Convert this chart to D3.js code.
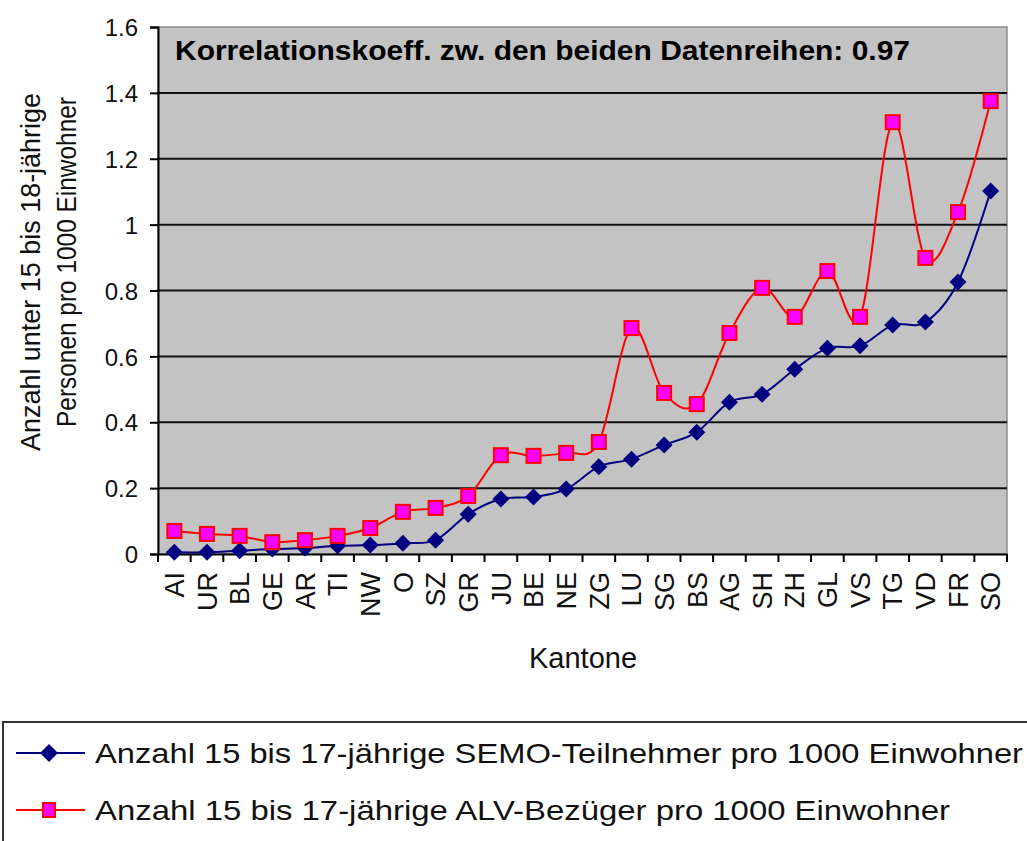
<!DOCTYPE html>
<html>
<head>
<meta charset="utf-8">
<script src="https://cdn.jsdelivr.net/npm/d3@7"></script>
<style>
  body { margin: 0; background: #fff; }
  svg { display: block; font-family: "Liberation Sans", Arial, sans-serif; }
</style>
</head>
<body>
<script>
const kantone = ["AI", "UR", "BL", "GE", "AR", "TI", "NW", "O", "SZ", "GR", "JU", "BE", "NE",
  "ZG", "LU", "SG", "BS", "AG", "SH", "ZH", "GL", "VS", "TG", "VD", "FR", "SO"];
const semo = [0.005, 0.005, 0.01, 0.015, 0.018, 0.025, 0.027, 0.033, 0.042, 0.121, 0.167, 0.173, 0.197,
  0.265, 0.288, 0.331, 0.37, 0.461, 0.485, 0.561, 0.625, 0.632, 0.695, 0.704, 0.826, 1.102];
const alv = [0.07, 0.061, 0.055, 0.036, 0.042, 0.055, 0.079, 0.128, 0.14, 0.176, 0.3, 0.298, 0.307,
  0.34, 0.686, 0.489, 0.455, 0.671, 0.808, 0.72, 0.859, 0.72, 1.311, 0.899, 1.038, 1.375];
const yTicks = [0, 0.2, 0.4, 0.6, 0.8, 1, 1.2, 1.4, 1.6];

const width = 1027;
const height = 841;
const plot = { left: 158, top: 27, right: 1007, bottom: 554 };

const svg = d3.select("body").append("svg")
  .attr("width", width)
  .attr("height", height);

const xScale = d3.scaleBand().domain(kantone).range([plot.left, plot.right]);
const yScale = d3.scaleLinear().domain([0, 1.6]).range([plot.bottom, plot.top]);
const xc = (k) => xScale(k) + xScale.bandwidth() / 2;

// plot background
svg.append("rect")
  .attr("x", plot.left).attr("y", plot.top)
  .attr("width", plot.right - plot.left).attr("height", plot.bottom - plot.top)
  .attr("fill", "#c3c3c3")
  .attr("stroke", "#8c8c8c").attr("stroke-width", 1.5);

// gridlines
svg.append("g").selectAll("line")
  .data(yTicks.slice(1, -1))
  .join("line")
  .attr("x1", plot.left).attr("x2", plot.right)
  .attr("y1", (d) => yScale(d)).attr("y2", (d) => yScale(d))
  .attr("stroke", "#111").attr("stroke-width", 2);

// annotation
svg.append("text")
  .text("Korrelationskoeff. zw. den beiden Datenreihen: 0.97")
  .attr("x", 175).attr("y", 60)
  .attr("font-size", 28).attr("font-weight", "bold")
  .attr("textLength", 735).attr("lengthAdjust", "spacingAndGlyphs")
  .attr("fill", "#000");

// y axis
const yAxis = d3.axisLeft(yScale).tickValues(yTicks).tickSize(8).tickPadding(12)
  .tickFormat((d) => String(d));
const gy = svg.append("g")
  .attr("transform", `translate(${plot.left},0)`)
  .call(yAxis);
gy.select(".domain").attr("stroke", "#000").attr("stroke-width", 2);
gy.selectAll(".tick line").attr("stroke", "#000").attr("stroke-width", 2);
gy.selectAll(".tick text")
  .attr("font-size", 24).attr("font-family", "Liberation Sans, Arial, sans-serif")
  .attr("fill", "#111").attr("dy", "0.36em");

// x axis
const xAxis = d3.axisBottom(xScale).tickSize(0).tickPadding(0);
const gx = svg.append("g")
  .attr("transform", `translate(0,${plot.bottom})`)
  .call(xAxis);
gx.select(".domain").attr("stroke", "#000").attr("stroke-width", 2);
gx.selectAll(".tick text")
  .attr("font-size", 27).attr("font-family", "Liberation Sans, Arial, sans-serif")
  .attr("fill", "#111")
  .attr("text-anchor", "end")
  .attr("transform", "translate(0,18) rotate(-90)")
  .attr("x", 0).attr("y", 0).attr("dy", "0.36em");
gx.append("g").selectAll("line")
  .data(d3.range(kantone.length + 1))
  .join("line")
  .attr("x1", (i) => plot.left + i * xScale.step())
  .attr("x2", (i) => plot.left + i * xScale.step())
  .attr("y1", 0).attr("y2", 8)
  .attr("stroke", "#000").attr("stroke-width", 2);

// axis titles
svg.append("text")
  .text("Kantone")
  .attr("x", 583).attr("y", 668)
  .attr("text-anchor", "middle")
  .attr("font-size", 29).attr("fill", "#111");

const yTitle = svg.append("text")
  .attr("transform", "translate(0,272) rotate(-90)")
  .attr("text-anchor", "middle")
  .attr("font-size", 27).attr("fill", "#111");
yTitle.append("tspan").attr("x", 0).attr("y", 40)
  .attr("textLength", 358).attr("lengthAdjust", "spacingAndGlyphs")
  .text("Anzahl unter 15 bis 18-jährige");
yTitle.append("tspan").attr("x", 10).attr("y", 76)
  .attr("textLength", 330).attr("lengthAdjust", "spacingAndGlyphs")
  .text("Personen pro 1000 Einwohner");

// lines
const line = d3.line()
  .x((d, i) => xc(kantone[i]))
  .y((d) => yScale(d))
  .curve(d3.curveCatmullRom.alpha(0));

svg.append("path").datum(semo)
  .attr("d", line)
  .attr("fill", "none").attr("stroke", "#000080").attr("stroke-width", 2);

svg.append("path").datum(alv)
  .attr("d", line)
  .attr("fill", "none").attr("stroke", "#ff0000").attr("stroke-width", 2);

const diamond = (cx, cy, r) => `M${cx},${cy - r}L${cx + r},${cy}L${cx},${cy + r}L${cx - r},${cy}Z`;

svg.append("g").selectAll("path")
  .data(semo)
  .join("path")
  .attr("d", (d, i) => diamond(xc(kantone[i]), yScale(d), 8.5))
  .attr("fill", "#000080");

svg.append("g").selectAll("rect")
  .data(alv)
  .join("rect")
  .attr("x", (d, i) => xc(kantone[i]) - 7)
  .attr("y", (d) => yScale(d) - 7)
  .attr("width", 14).attr("height", 14)
  .attr("fill", "#ff00ff").attr("stroke", "#ff0000").attr("stroke-width", 2);

// legend
const legend = svg.append("g");
legend.append("rect")
  .attr("x", 3).attr("y", 722)
  .attr("width", 1040).attr("height", 140)
  .attr("fill", "#fff").attr("stroke", "#333").attr("stroke-width", 2);

const legendItems = [
  { label: "Anzahl 15 bis 17-jährige SEMO-Teilnehmer pro 1000 Einwohner", color: "#000080", y: 753, len: 928 },
  { label: "Anzahl 15 bis 17-jährige ALV-Bezüger pro 1000 Einwohner", color: "#ff0000", y: 810, len: 855 },
];

legendItems.forEach((item, i) => {
  legend.append("line")
    .attr("x1", 16).attr("x2", 85)
    .attr("y1", item.y).attr("y2", item.y)
    .attr("stroke", item.color).attr("stroke-width", 2);
  if (i === 0) {
    legend.append("path").attr("d", diamond(49, item.y, 9)).attr("fill", "#000080");
  } else {
    legend.append("rect")
      .attr("x", 43).attr("y", item.y - 7)
      .attr("width", 12).attr("height", 14)
      .attr("fill", "#ff00ff").attr("stroke", "#ff0000").attr("stroke-width", 2);
  }
  legend.append("text")
    .text(item.label)
    .attr("x", 95).attr("y", item.y + 10)
    .attr("font-size", 28).attr("fill", "#111")
    .attr("textLength", item.len).attr("lengthAdjust", "spacingAndGlyphs");
});
</script>
</body>
</html>
